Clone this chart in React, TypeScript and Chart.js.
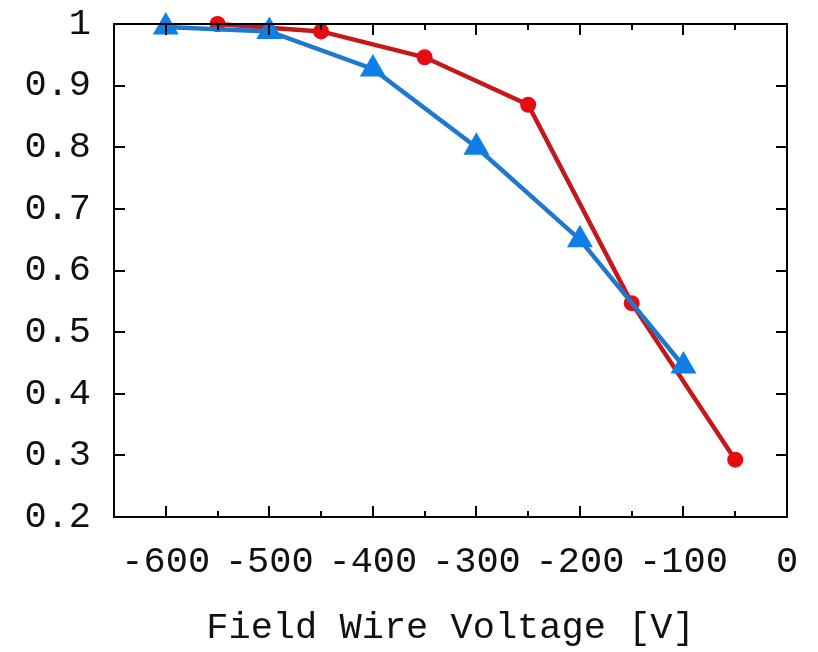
import React, { useEffect, useRef } from "react";
import { Chart, registerables } from "chart.js";

Chart.register(...registerables);

const BLUE_X = [-600, -500, -400, -300, -200, -100];
const BLUE_Y = [0.995, 0.988, 0.927, 0.8, 0.65, 0.445];
const RED_X = [-550, -450, -350, -250, -150, -50];
const RED_Y = [1.0, 0.988, 0.946, 0.869, 0.547, 0.293];

const X_MAJOR = [-600, -500, -400, -300, -200, -100, 0];
const X_MINOR = [-550, -450, -350, -250, -150, -50];
const Y_MAJOR = [0.2, 0.3, 0.4, 0.5, 0.6, 0.7, 0.8, 0.9, 1.0];
const X_TITLE = "Field Wire Voltage [V]";

const FONT = { family: "'Liberation Mono', 'DejaVu Sans Mono', monospace", size: 37 };

const framePlugin = {
  id: "frame",
  afterDatasetsDraw(chart: any) {
    const { ctx, chartArea: a, scales } = chart;
    const xs = scales.x;
    const ys = scales.y;
    ctx.save();
    ctx.strokeStyle = "#000";
    ctx.lineWidth = 2;
    ctx.beginPath();
    const major = 11;
    const minor = 6;
    X_MAJOR.forEach((v) => {
      const px = Math.round(xs.getPixelForValue(v));
      if (px <= a.left + 1 || px >= a.right - 1) return;
      ctx.moveTo(px, a.bottom);
      ctx.lineTo(px, a.bottom - major);
      ctx.moveTo(px, a.top);
      ctx.lineTo(px, a.top + major);
    });
    X_MINOR.forEach((v) => {
      const px = Math.round(xs.getPixelForValue(v));
      ctx.moveTo(px, a.bottom);
      ctx.lineTo(px, a.bottom - minor);
      ctx.moveTo(px, a.top);
      ctx.lineTo(px, a.top + minor);
    });
    Y_MAJOR.forEach((v) => {
      const py = Math.round(ys.getPixelForValue(v));
      if (py <= a.top + 1 || py >= a.bottom - 1) return;
      ctx.moveTo(a.left, py);
      ctx.lineTo(a.left + major, py);
      ctx.moveTo(a.right, py);
      ctx.lineTo(a.right - major, py);
    });
    ctx.stroke();
    ctx.strokeRect(a.left, a.top, a.right - a.left, a.bottom - a.top);
    ctx.restore();
  },
};

const zeroPad = (s: any) => {
  s.paddingTop = 0;
  s.paddingBottom = 0;
  s.paddingLeft = 0;
  s.paddingRight = 0;
};

export default function App() {
  const ref = useRef<HTMLCanvasElement | null>(null);

  useEffect(() => {
    document.body.style.margin = "0";
    const canvas = ref.current;
    if (!canvas) return;
    const chart = new Chart(canvas, {
      type: "line",
      data: {
        datasets: [
          {
            label: "blue",
            data: BLUE_X.map((x, i) => ({ x, y: BLUE_Y[i] })),
            borderColor: "#1f78cf",
            backgroundColor: "#0f7fe6",
            borderWidth: 4.5,
            pointStyle: "triangle",
            pointRadius: 15,
            pointBorderWidth: 0,
            clip: false as any,
          },
          {
            label: "red",
            data: RED_X.map((x, i) => ({ x, y: RED_Y[i] })),
            borderColor: "#c4191c",
            backgroundColor: "#e60d12",
            borderWidth: 4.5,
            pointStyle: "circle",
            pointRadius: 8,
            pointBorderWidth: 0,
            clip: false as any,
          },
        ],
      },
      options: {
        animation: false,
        responsive: false,
        maintainAspectRatio: false,
        layout: { padding: { top: 24, right: 31, left: 0, bottom: 0 } },
        plugins: { legend: { display: false }, tooltip: { enabled: false } },
        scales: {
          x: {
            type: "linear",
            min: -650,
            max: 0,
            grid: { display: false },
            border: { display: false },
            afterBuildTicks: (s: any) => {
              s.ticks = X_MAJOR.map((v) => ({ value: v }));
            },
            afterFit: (s: any) => {
              s.height = 135;
              zeroPad(s);
            },
            ticks: {
              font: FONT,
              color: "#111",
              padding: 15,
              maxRotation: 0,
              autoSkip: false,
              callback: (v: any) => String(v),
            },
            title: {
              display: true,
              text: X_TITLE,
              font: FONT,
              color: "#111",
              padding: { top: 0, bottom: 2 },
            },
          },
          y: {
            type: "linear",
            min: 0.2,
            max: 1,
            grid: { display: false },
            border: { display: false },
            afterBuildTicks: (s: any) => {
              s.ticks = Y_MAJOR.map((v) => ({ value: v }));
            },
            afterFit: (s: any) => {
              s.width = 114;
              zeroPad(s);
            },
            ticks: {
              font: FONT,
              color: "#111",
              padding: 15,
              autoSkip: false,
              callback: (v: any) => (Math.abs(v - 1) < 1e-9 ? "1" : Number(v).toFixed(1)),
            },
          },
        },
      },
      plugins: [framePlugin],
    });
    return () => chart.destroy();
  }, []);

  return (
    <div style={{ position: "fixed", left: 0, top: 0, width: 818, height: 652, background: "#fff" }}>
      <canvas ref={ref} width={818} height={652} style={{ width: 818, height: 652 }} />
    </div>
  );
}
